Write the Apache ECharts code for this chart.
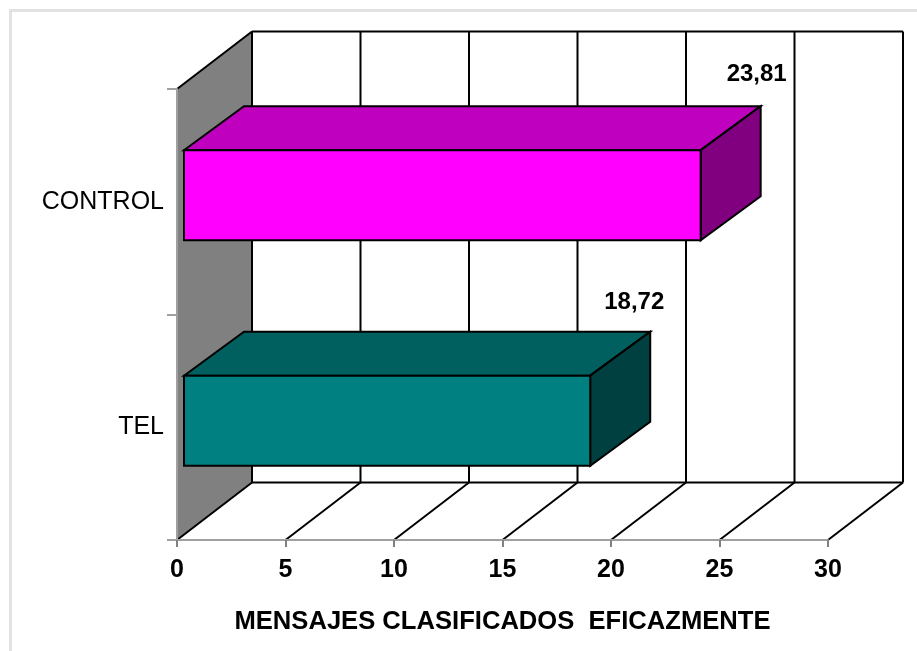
<!DOCTYPE html>
<html>
<head>
<meta charset="utf-8">
<style>html,body{margin:0;padding:0;background:#fff}#c{width:917px;height:651px}</style>
<script src="https://cdn.jsdelivr.net/npm/echarts@6/dist/echarts.min.js"></script>
</head>
<body>
<div id="c"></div>
<script>
// Data
const categories = ['TEL', 'CONTROL'];
const values = [18.72, 23.81];
const valueLabels = ['18,72', '23,81'];
const xTicks = [0, 5, 10, 15, 20, 25, 30];
const axisTitle = 'MENSAJES CLASIFICADOS  EFICAZMENTE';

// Styling
const frontColors = ['#008080', '#ff00ff'];
const topColors = ['#006060', '#bf00bf'];
const sideColors = ['#004040', '#800080'];
const labelShift = [[-16, -29], [-4, -32]];
const FONT = '"Liberation Sans", Arial, sans-serif';
const WALL = { dx: 75, dy: -57.5 };
const BAR = { dx: 60, dy: -44, inset: 7, lift: -6.5, ratio: 0.4 };
const edge = { stroke: '#000', lineWidth: 2, fill: 'none' };

function seg(x1, y1, x2, y2) {
  return { type: 'line', shape: { x1, y1, x2, y2 }, style: { stroke: '#000', lineWidth: 2 } };
}

const chart = echarts.init(document.getElementById('c'), null, { renderer: 'canvas' });
chart.setOption({
  animation: false,
  backgroundColor: '#ffffff',
  grid: { left: 177, right: 89, top: 89, bottom: 111, containLabel: false },
  xAxis: {
    type: 'value', min: 0, max: 30, interval: 5, z: 5,
    axisLine: { show: true, lineStyle: { color: '#a0a0a0', width: 2 } },
    axisTick: { show: true, length: 7, lineStyle: { color: '#808080', width: 2 } },
    splitLine: { show: false },
    axisLabel: { margin: 18, fontFamily: FONT, fontSize: 25, fontWeight: 'bold', color: '#000' },
    name: axisTitle, nameLocation: 'middle', nameGap: 69,
    nameTextStyle: { fontFamily: FONT, fontSize: 25.6, fontWeight: 'bold', color: '#000' }
  },
  yAxis: {
    type: 'category', data: categories, z: 5,
    axisLine: { show: true, onZero: false, lineStyle: { color: '#a0a0a0', width: 2 } },
    axisTick: { show: true, length: 10, alignWithLabel: false, lineStyle: { color: '#a0a0a0', width: 2 } },
    splitLine: { show: false },
    axisLabel: { margin: 13, fontFamily: FONT, fontSize: 25, color: '#000', padding: [0, 0, 3, 0] }
  },
  series: [
    {
      type: 'custom', coordinateSystem: 'cartesian2d', silent: true, z: 1,
      data: xTicks.map(v => [v]), encode: { x: 0 },
      renderItem(params, api) {
        const v = api.value(0);
        const g = params.coordSys;
        const x = api.coord([v, 0])[0];
        const top = g.y, bot = g.y + g.height;
        const kids = [];
        if (params.dataIndex === 0) {
          const bx = g.x + WALL.dx;
          kids.push({
            type: 'polygon',
            shape: { points: [[g.x, top], [bx, top + WALL.dy], [bx, bot + WALL.dy], [g.x, bot]] },
            style: { fill: '#808080', stroke: 'none' }
          });
          kids.push(seg(g.x, top, bx, top + WALL.dy));
          kids.push(seg(bx, top + WALL.dy, bx + g.width, top + WALL.dy));
          kids.push(seg(bx, bot + WALL.dy, bx + g.width, bot + WALL.dy));
        }
        kids.push(seg(x, bot, x + WALL.dx, bot + WALL.dy));
        kids.push(seg(x + WALL.dx, top + WALL.dy, x + WALL.dx, bot + WALL.dy));
        return { type: 'group', children: kids };
      }
    },
    {
      type: 'custom', coordinateSystem: 'cartesian2d', silent: true, z: 2,
      data: values.map((v, i) => [v, i]), encode: { x: 0, y: 1 },
      renderItem(params, api) {
        const i = params.dataIndex;
        const end = api.coord([api.value(0), api.value(1)]);
        const start = api.coord([0, api.value(1)]);
        const h = api.size([0, 1])[1] * BAR.ratio;
        const x0 = start[0] + BAR.inset, x1 = end[0] + BAR.inset;
        const y0 = end[1] + BAR.lift - h / 2, y1 = y0 + h;
        const d = BAR;
        const s = labelShift[i];
        return {
          type: 'group',
          children: [
            { type: 'polygon', shape: { points: [[x0, y0], [x1, y0], [x1 + d.dx, y0 + d.dy], [x0 + d.dx, y0 + d.dy]] },
              style: { ...edge, fill: topColors[i] } },
            { type: 'polygon', shape: { points: [[x1, y0], [x1 + d.dx, y0 + d.dy], [x1 + d.dx, y1 + d.dy], [x1, y1]] },
              style: { ...edge, fill: sideColors[i] } },
            { type: 'rect', shape: { x: x0, y: y0, width: x1 - x0, height: h },
              style: { ...edge, fill: frontColors[i] } },
            { type: 'text', x: x1 + d.dx + s[0], y: y0 + d.dy + s[1],
              style: { text: valueLabels[i], fill: '#000', font: 'bold 24px ' + FONT, textAlign: 'center', textVerticalAlign: 'middle' } }
          ]
        };
      }
    }
  ],
  graphic: [
    { type: 'line', silent: true, shape: { x1: 11, y1: 10.5, x2: 917, y2: 10.5 }, style: { stroke: '#e2e2e2', lineWidth: 3 } },
    { type: 'line', silent: true, shape: { x1: 10.5, y1: 9, x2: 10.5, y2: 651 }, style: { stroke: '#e2e2e2', lineWidth: 3 } }
  ]
});
</script>
</body>
</html>
